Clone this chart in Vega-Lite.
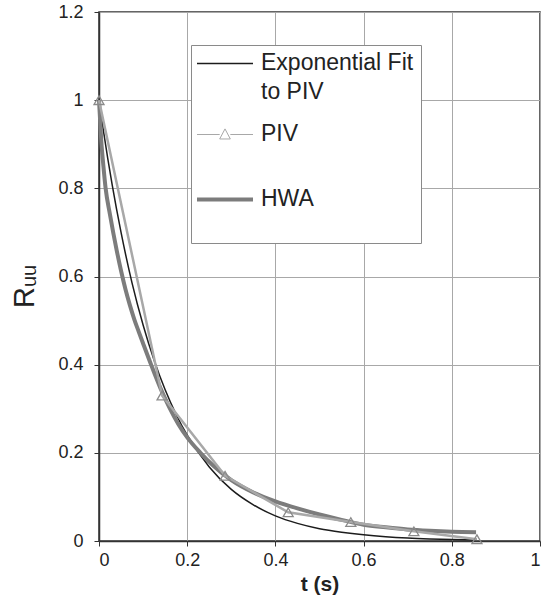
{
  "$schema": "https://vega.github.io/schema/vega-lite/v6.json",
  "width": 441,
  "height": 529,
  "autosize": {"type": "none"},
  "padding": {"left": 99, "top": 12, "right": 5, "bottom": 62},
  "background": "white",
  "config": {
    "font": "Liberation Sans",
    "view": {"stroke": "#333333", "strokeWidth": 1.5},
    "axis": {
      "gridColor": "#a8a8a8",
      "gridWidth": 1,
      "domainColor": "#333333",
      "domainWidth": 1.5,
      "tickColor": "#333333",
      "tickSize": 5,
      "labelFont": "Liberation Sans",
      "labelFontSize": 18,
      "labelColor": "#222222"
    }
  },
  "datasets": {
    "curves": [
      {"series": "Exponential Fit to PIV", "t": 0, "r": 1},
      {"series": "Exponential Fit to PIV", "t": 0.01, "r": 0.931},
      {"series": "Exponential Fit to PIV", "t": 0.02, "r": 0.867},
      {"series": "Exponential Fit to PIV", "t": 0.03, "r": 0.807},
      {"series": "Exponential Fit to PIV", "t": 0.05, "r": 0.7},
      {"series": "Exponential Fit to PIV", "t": 0.075, "r": 0.585},
      {"series": "Exponential Fit to PIV", "t": 0.1, "r": 0.49},
      {"series": "Exponential Fit to PIV", "t": 0.125, "r": 0.41},
      {"series": "Exponential Fit to PIV", "t": 0.15, "r": 0.343},
      {"series": "Exponential Fit to PIV", "t": 0.175, "r": 0.287},
      {"series": "Exponential Fit to PIV", "t": 0.2, "r": 0.24},
      {"series": "Exponential Fit to PIV", "t": 0.25, "r": 0.168},
      {"series": "Exponential Fit to PIV", "t": 0.3, "r": 0.117},
      {"series": "Exponential Fit to PIV", "t": 0.35, "r": 0.082},
      {"series": "Exponential Fit to PIV", "t": 0.4, "r": 0.057},
      {"series": "Exponential Fit to PIV", "t": 0.45, "r": 0.04},
      {"series": "Exponential Fit to PIV", "t": 0.5, "r": 0.028},
      {"series": "Exponential Fit to PIV", "t": 0.55, "r": 0.02},
      {"series": "Exponential Fit to PIV", "t": 0.6, "r": 0.014},
      {"series": "Exponential Fit to PIV", "t": 0.65, "r": 0.0097},
      {"series": "Exponential Fit to PIV", "t": 0.7, "r": 0.0067},
      {"series": "Exponential Fit to PIV", "t": 0.75, "r": 0.0047},
      {"series": "Exponential Fit to PIV", "t": 0.8, "r": 0.0033},
      {"series": "Exponential Fit to PIV", "t": 0.857, "r": 0.0022},
      {"series": "HWA", "t": 0, "r": 1},
      {"series": "HWA", "t": 0.005, "r": 0.91},
      {"series": "HWA", "t": 0.01, "r": 0.85},
      {"series": "HWA", "t": 0.015, "r": 0.8},
      {"series": "HWA", "t": 0.025, "r": 0.74},
      {"series": "HWA", "t": 0.04, "r": 0.66},
      {"series": "HWA", "t": 0.05, "r": 0.613},
      {"series": "HWA", "t": 0.06, "r": 0.571},
      {"series": "HWA", "t": 0.07, "r": 0.535},
      {"series": "HWA", "t": 0.08, "r": 0.503},
      {"series": "HWA", "t": 0.09, "r": 0.475},
      {"series": "HWA", "t": 0.1, "r": 0.448},
      {"series": "HWA", "t": 0.12, "r": 0.395},
      {"series": "HWA", "t": 0.14, "r": 0.345},
      {"series": "HWA", "t": 0.16, "r": 0.302},
      {"series": "HWA", "t": 0.18, "r": 0.265},
      {"series": "HWA", "t": 0.2, "r": 0.235},
      {"series": "HWA", "t": 0.23, "r": 0.2},
      {"series": "HWA", "t": 0.26, "r": 0.17},
      {"series": "HWA", "t": 0.3, "r": 0.138},
      {"series": "HWA", "t": 0.35, "r": 0.11},
      {"series": "HWA", "t": 0.4, "r": 0.09},
      {"series": "HWA", "t": 0.45, "r": 0.074},
      {"series": "HWA", "t": 0.5, "r": 0.06},
      {"series": "HWA", "t": 0.55, "r": 0.048},
      {"series": "HWA", "t": 0.6, "r": 0.037},
      {"series": "HWA", "t": 0.65, "r": 0.031},
      {"series": "HWA", "t": 0.7, "r": 0.026},
      {"series": "HWA", "t": 0.75, "r": 0.023},
      {"series": "HWA", "t": 0.8, "r": 0.021},
      {"series": "HWA", "t": 0.855, "r": 0.02}
    ],
    "piv": [
      {"series": "PIV", "t": 0, "r": 1},
      {"series": "PIV", "t": 0.143, "r": 0.33},
      {"series": "PIV", "t": 0.286, "r": 0.148},
      {"series": "PIV", "t": 0.429, "r": 0.065},
      {"series": "PIV", "t": 0.571, "r": 0.043},
      {"series": "PIV", "t": 0.714, "r": 0.022},
      {"series": "PIV", "t": 0.857, "r": 0.004}
    ]
  },
  "encoding": {
    "x": {
      "field": "t",
      "type": "quantitative",
      "scale": {"domain": [0, 1], "nice": false},
      "axis": {
        "values": [0, 0.2, 0.4, 0.6, 0.8, 1],
        "format": "~g",
        "labelPadding": 5,
        "title": "t (s)",
        "titleFont": "Liberation Sans",
        "titleFontSize": 21,
        "titleFontWeight": "bold",
        "titleColor": "#222222",
        "titleBaseline": "alphabetic",
        "titleY": 49
      }
    },
    "y": {
      "field": "r",
      "type": "quantitative",
      "scale": {"domain": [0, 1.2], "nice": false},
      "axis": {
        "values": [0, 0.2, 0.4, 0.6, 0.8, 1, 1.2],
        "format": "~g",
        "labelPadding": 11,
        "title": "Rᵤᵤ",
        "titleFont": "Liberation Sans",
        "titleFontSize": 29,
        "titleFontWeight": "normal",
        "titleColor": "#222222",
        "titleAngle": -90,
        "titleAlign": "center",
        "titleBaseline": "alphabetic",
        "titleX": -66,
        "titleY": 274
      }
    }
  },
  "layer": [
    {
      "data": {"name": "curves"},
      "mark": {"type": "line", "interpolate": "monotone"},
      "encoding": {
        "color": {
          "field": "series",
          "type": "nominal",
          "scale": {
            "domain": ["Exponential Fit to PIV", "PIV", "HWA"],
            "range": ["#1c1c1c", "#a8a8a8", "#7c7c7c"]
          },
          "legend": {
            "orient": "none",
            "legendX": 92,
            "legendY": 33,
            "title": null,
            "fillColor": "white",
            "strokeColor": "#8a8a8a",
            "padding": 7,
            "symbolSize": 3136,
            "symbolType": "stroke",
            "labelFont": "Liberation Sans",
            "labelFontSize": 23,
            "labelColor": "#222222",
            "labelOffset": 40,
            "labelLimit": 400,
            "rowPadding": 0,
            "labelExpr": "datum.label == 'Exponential Fit to PIV' ? ['Exponential Fit', 'to PIV'] : datum.label",
            "encode": {
              "symbols": {
                "update": {
                  "x": {"value": 27},
                  "shape": {"signal": "datum.value == 'PIV' ? 'M0,-0.3M-1,0H-0.19M0.19,0H1M0,-0.2L0.19,0.16L-0.19,0.16ZM0,1.64' : datum.value == 'HWA' ? 'M0,-0.3M-1,0H1M0,1.0' : 'M0,-0.3M-1,0H1M0,1.96'"},
                  "strokeWidth": {"signal": "datum.value == 'HWA' ? 4 : datum.value == 'PIV' ? 1 : 1.5"},
                  "fill": {"value": "transparent"}
                }
              },
              "labels": {
                "update": {
                  "baseline": {"value": "top"},
                  "dy": {"value": -12},
                  "lineHeight": {"value": 29}
                }
              }
            }
          }
        },
        "strokeWidth": {
          "field": "series",
          "type": "nominal",
          "scale": {
            "type": "ordinal",
            "domain": ["Exponential Fit to PIV", "PIV", "HWA"],
            "range": [1.5, 1, 4]
          },
          "legend": null
        }
      }
    },
    {
      "data": {"name": "piv"},
      "mark": {"type": "line", "interpolate": "linear"},
      "encoding": {
        "color": {"field": "series", "type": "nominal"},
        "strokeWidth": {"field": "series", "type": "nominal", "legend": null}
      }
    },
    {
      "data": {"name": "piv"},
      "mark": {"type": "point", "shape": "triangle-up", "size": 100, "filled": false, "stroke": "#8a8a8a", "strokeWidth": 1.3, "opacity": 1},
      "encoding": {}
    }
  ]
}
